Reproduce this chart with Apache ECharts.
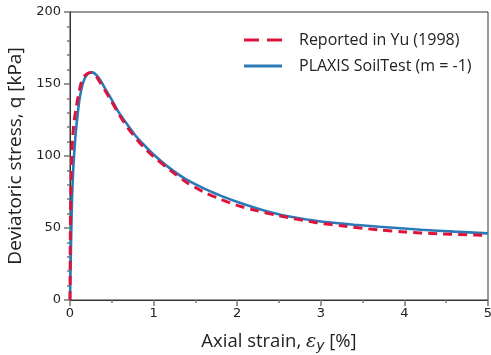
<!DOCTYPE html>
<html><head><meta charset="utf-8">
<script src="https://cdn.jsdelivr.net/npm/echarts@6/dist/echarts.min.js"></script>
<style>html,body{margin:0;padding:0;background:#fff}#c{width:491px;height:355px}</style>
</head><body><div id="c"></div>
<script>
var yuStrain = [0,0.004,0.01,0.02,0.035,0.05,0.075,0.1,0.13,0.16,0.2,0.25,0.3,0.35,0.42,0.5,0.58,0.68,0.8,0.9,1.0,1.2,1.4,1.6,1.8,2.0,2.2,2.5,2.95,3.3,3.7,4.0,4.4,4.86,5.0];
var yuStress = [0,45,75,100,115,124,134,142,150,154.5,157,158,156.5,152,145.5,137.5,129.5,120.5,111.5,105,99.5,90,81.5,75,70,65.7,62.5,58.5,53.7,51.2,48.6,47.3,46,45.1,44.8];
var plaxisStrain = [0,0.012,0.024,0.04,0.055,0.07,0.09,0.11,0.135,0.16,0.19,0.225,0.267,0.32,0.37,0.418,0.5,0.578,0.677,0.777,0.88,1.0,1.15,1.355,1.6,1.8,2.03,2.3,2.59,3.0,3.4,3.7,4.2,4.6,5.0];
var plaxisStress = [0,38,70,92,106,117,128,138,146,151.5,155.5,157.6,158.1,156,152,147,139,130.8,122.5,114.6,108,101,93.5,85,77.5,72.5,67.5,62.5,58.3,54.5,52.3,50.9,48.8,47.5,46.3];
var seriesNames = ['Reported in Yu (1998)','PLAXIS SoilTest (m = -1)'];
var xTitle = 'Axial strain, ';
var yTitle = 'Deviatoric stress, q [kPa]';

function pairs(xs, ys){ return xs.map(function(x,i){ return [x, ys[i]]; }); }

var chart = echarts.init(document.getElementById('c'));
var titleFont = '"Open Sans", "Noto Sans", sans-serif';
chart.setOption({
  animation: false,
  grid: {left: 70, right: 3, top: 12, bottom: 55, show: true, borderColor: '#333', borderWidth: 1, backgroundColor: 'transparent', containLabel: false, outerBoundsMode: 'none'},
  legend: {
    show: true, orient: 'vertical', left: 239, top: 27, itemWidth: 38, itemHeight: 3, itemGap: 10,
    textStyle: {fontFamily: titleFont, fontSize: 16, color: '#222', padding: [0,0,0,12]},
    data: [
      {name: seriesNames[0], icon: 'path://M0,0h15v3h-15z M23,0h15v3h-15z'},
      {name: seriesNames[1], icon: 'path://M0,0h38v3h-38z'}
    ]
  },
  xAxis: {
    type: 'value', min: 0, max: 5, interval: 1,
    name: xTitle + '{e|ε}{s|y} [%]', nameLocation: 'middle', nameGap: 31,
    nameTextStyle: {fontFamily: titleFont, fontSize: 18.5, color: '#222',
      rich: {e: {fontFamily: 'DejaVu Serif', fontStyle: 'italic', fontSize: 19, color: '#222'},
             s: {fontFamily: 'DejaVu Sans', fontStyle: 'italic', fontSize: 14, color: '#222', verticalAlign: 'bottom', padding: [8,0,0,0]}}},
    axisLine: {onZero: false, lineStyle: {color: '#333', width: 1}},
    axisTick: {show: true, inside: false, length: 6, lineStyle: {color: '#777', width: 1.5}},
    minorTick: {show: true, splitNumber: 2, length: 3, lineStyle: {color: '#777', width: 1.5}},
    axisLabel: {fontFamily: 'DejaVu Sans', fontSize: 13, color: '#222', margin: 7},
    splitLine: {show: false}
  },
  yAxis: {
    type: 'value', min: 0, max: 200, interval: 50,
    name: yTitle, nameLocation: 'middle', nameGap: 45, nameRotate: 90,
    nameTextStyle: {fontFamily: titleFont, fontSize: 19, color: '#222'},
    axisLine: {show: true, onZero: false, lineStyle: {color: '#333', width: 1}},
    axisTick: {show: true, inside: false, length: 6, lineStyle: {color: '#777', width: 1.5}},
    minorTick: {show: true, splitNumber: 5, length: 3, lineStyle: {color: '#777', width: 1.5}},
    axisLabel: {fontFamily: 'DejaVu Sans', fontSize: 13, color: '#222', margin: 9},
    splitLine: {show: false}
  },
  series: [
    {name: seriesNames[1], type: 'line', data: pairs(plaxisStrain, plaxisStress), symbol: 'none', smooth: 0.3,
     lineStyle: {color: '#2a7ab8', width: 2.6}, itemStyle: {color: '#2a7ab8'}, z: 2},
    {name: seriesNames[0], type: 'line', data: pairs(yuStrain, yuStress), symbol: 'none', smooth: 0.3,
     lineStyle: {color: '#dc143c', width: 3, type: [9, 6]}, itemStyle: {color: '#dc143c'}, z: 3}
  ]
});
</script></body></html>
